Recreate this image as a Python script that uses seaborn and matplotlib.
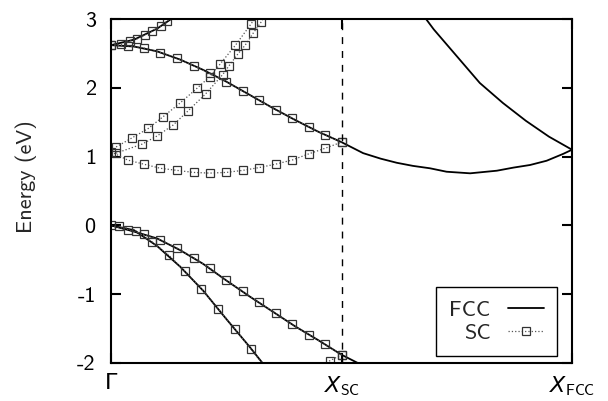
import matplotlib
matplotlib.use("Agg")
import matplotlib.pyplot as plt
from matplotlib.lines import Line2D
import pandas as pd
import seaborn as sns

# FCC bands (solid lines), k in units of Gamma -> X_FCC
k_v1 = [0, 0.05, 0.10, 0.15, 0.20, 0.25, 0.30, 0.35, 0.40, 0.45, 0.50, 0.55]
e_v1 = [0, -0.09, -0.19, -0.36, -0.56, -0.80, -1.03, -1.25, -1.47, -1.67, -1.88, -2.05]
k_v2 = [0, 0.05, 0.10, 0.15, 0.20, 0.25, 0.30, 0.35]
e_v2 = [0, -0.07, -0.30, -0.60, -0.95, -1.36, -1.76, -2.18]
k_c1 = [0, 0.05, 0.10, 0.15, 0.20, 0.25, 0.30, 0.35, 0.40, 0.45, 0.50,
        0.547, 0.585, 0.62, 0.655, 0.692, 0.728, 0.779, 0.837, 0.873, 0.909,
        0.945, 0.981, 1.0]
e_c1 = [2.62, 2.60, 2.53, 2.41, 2.26, 2.09, 1.90, 1.71, 1.53, 1.36, 1.21,
        1.05, 0.97, 0.91, 0.865, 0.83, 0.78, 0.757, 0.795, 0.84, 0.878,
        0.94, 1.04, 1.10]
k_c2 = [0.65, 0.70, 0.75, 0.80, 0.85, 0.90, 0.95, 1.0]
e_c2 = [3.3, 2.85, 2.46, 2.07, 1.78, 1.52, 1.29, 1.10]
k_c3 = [0, 0.05, 0.10, 0.15]
e_c3 = [2.62, 2.70, 2.86, 3.09]

# SC bands (dotted + squares), Gamma -> X_SC
k_grid = [0, 0.036, 0.071, 0.107, 0.143, 0.179, 0.214, 0.25, 0.286, 0.321,
          0.357, 0.393, 0.429, 0.464, 0.5]
sc_v1 = [0, -0.06, -0.13, -0.21, -0.33, -0.47, -0.62, -0.80, -0.96, -1.12,
         -1.28, -1.44, -1.59, -1.73, -1.88]
k_sv2 = [0.018, 0.054, 0.089, 0.125, 0.161, 0.196, 0.232, 0.268, 0.304, 0.339]
sc_v2 = [-0.01, -0.08, -0.24, -0.43, -0.67, -0.92, -1.21, -1.50, -1.80, -2.1]
k_sv3 = [0.439, 0.474, 0.5]
sc_v3 = [-2.15, -1.97, -1.88]
sc_c1 = [2.62, 2.61, 2.58, 2.51, 2.43, 2.32, 2.21, 2.09, 1.95, 1.82,
         1.68, 1.56, 1.43, 1.32, 1.21]
sc_dip = [1.07, 0.95, 0.89, 0.83, 0.80, 0.77, 0.76, 0.77, 0.80, 0.84,
          0.89, 0.95, 1.04, 1.12, 1.21]
k_sa = [0.011, 0.045, 0.081, 0.113, 0.150, 0.186, 0.214, 0.236, 0.270, 0.304, 0.33]
sc_a = [1.14, 1.27, 1.41, 1.58, 1.78, 1.99, 2.16, 2.34, 2.62, 2.93, 3.2]
k_sb = [0.011, 0.067, 0.10, 0.135, 0.168, 0.205, 0.242, 0.256, 0.275, 0.291, 0.309, 0.325, 0.34]
sc_b = [1.05, 1.18, 1.30, 1.46, 1.67, 1.91, 2.19, 2.32, 2.49, 2.62, 2.80, 2.95, 3.12]
k_sc3 = [0, 0.022, 0.041, 0.056, 0.074, 0.088, 0.108, 0.122, 0.141]
sc_c3 = [2.62, 2.63, 2.68, 2.71, 2.77, 2.82, 2.90, 2.97, 3.07]

tick_pos = [0, 0.5, 1.0]
tick_lab = ["Γ", r"$X_{\mathrm{SC}}$", r"$X_{\mathrm{FCC}}$"]


def long_df(bands):
    rows = []
    for name, (k, e) in bands.items():
        for kk, ee in zip(k, e):
            rows.append({"band": name, "k": kk, "E": ee})
    return pd.DataFrame(rows)


fcc = long_df({"v1": (k_v1, e_v1), "v2": (k_v2, e_v2), "c1": (k_c1, e_c1),
               "c2": (k_c2, e_c2), "c3": (k_c3, e_c3)})
sc = long_df({"v1": (k_grid, sc_v1), "v2": (k_sv2, sc_v2), "v3": (k_sv3, sc_v3),
              "c1": (k_grid, sc_c1), "dip": (k_grid, sc_dip), "a": (k_sa, sc_a),
              "b": (k_sb, sc_b), "c3": (k_sc3, sc_c3)})

sns.set_style("ticks")
plt.rcParams["font.family"] = ["cmss10", "DejaVu Sans"]
plt.rcParams["axes.unicode_minus"] = False
plt.rcParams["mathtext.fontset"] = "custom"
plt.rcParams["mathtext.rm"] = "cmss10"
plt.rcParams["mathtext.it"] = "DejaVu Sans:italic"

fig = plt.figure(figsize=(6.08, 4.01), dpi=100)
ax = fig.add_axes([0.1826, 0.0948, 0.7582, 0.8578])

sc_style = dict(color="#555555", lw=0.9, ls=":", marker="s", ms=5.5,
                mfc="none", mec="#333333", mew=0.9)
sns.lineplot(data=fcc, x="k", y="E", units="band", estimator=None, sort=False,
             color="black", lw=1.3, legend=False, ax=ax)
sns.lineplot(data=sc, x="k", y="E", units="band", estimator=None, sort=False,
             legend=False, ax=ax, **sc_style)

ax.axvline(0.5, color="black", lw=1.0, ls=(0, (5, 5)))

ax.set_xlim(0, 1)
ax.set_ylim(-2, 3)
ax.set_xticks(tick_pos, tick_lab)
ax.set_yticks([-2, -1, 0, 1, 2, 3])
ax.tick_params(direction="in", length=7, width=1.5, top=True, right=True,
               labelsize=16, colors="black")
ax.tick_params(axis="y", pad=11)
ax.tick_params(axis="x", pad=8)
for s in ax.spines.values():
    s.set_linewidth(1.5)
    s.set_color("black")
ax.set_xlabel("")
ax.set_ylabel("Energy (eV)", fontsize=16)
ax.yaxis.set_label_coords(-0.16, 0.542)

handles = [Line2D([], [], color="black", lw=1.3), Line2D([], [], **sc_style)]
leg = ax.legend(handles, ["FCC", "SC"], loc="lower right",
                bbox_to_anchor=(0.968, 0.02), borderaxespad=0, markerfirst=False,
                fancybox=False, edgecolor="black", framealpha=1, fontsize=16,
                handlelength=1.6, labelspacing=0.15, handletextpad=0.8,
                borderpad=0.6)
leg.get_frame().set_linewidth(1.0)

fig.savefig("out.png", dpi=100)
